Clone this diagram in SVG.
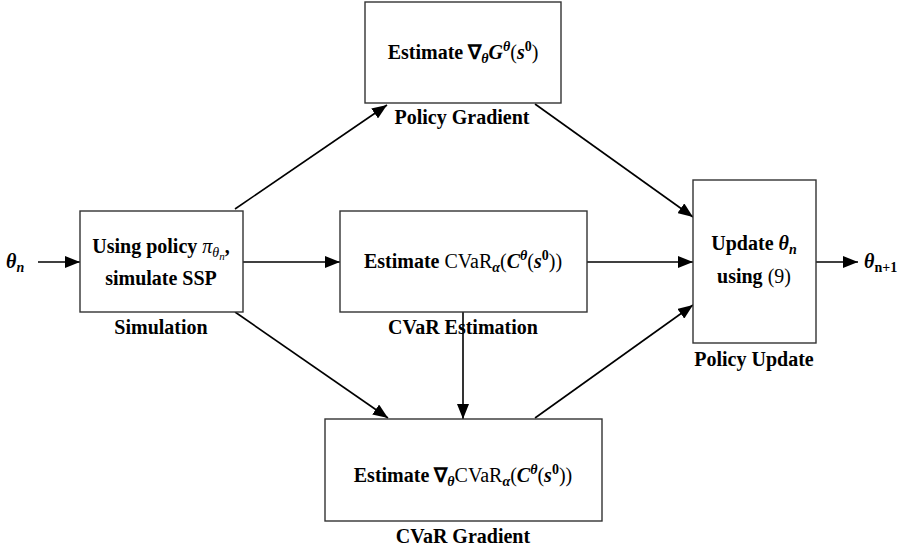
<svg xmlns="http://www.w3.org/2000/svg" width="916" height="552" viewBox="0 0 916 552">
  <defs>
    <marker id="arrow" markerUnits="userSpaceOnUse" markerWidth="16" markerHeight="12" refX="15" refY="6" orient="auto">
      <path d="M0,0 L15,6 L0,12 z" fill="#000"/>
    </marker>
  </defs>

  <!-- connectors: shared stroke and arrowhead set on the group -->
  <g id="connectors" stroke="#000" stroke-width="1.6" fill="none">
    <line x1="38" y1="262" x2="80" y2="262" marker-end="url(#arrow)"/>
    <line x1="235" y1="209" x2="387" y2="105" marker-end="url(#arrow)"/>
    <line x1="243" y1="262" x2="340" y2="262" marker-end="url(#arrow)"/>
    <line x1="235" y1="312" x2="388" y2="418" marker-end="url(#arrow)"/>
    <line x1="535" y1="104" x2="693" y2="217" marker-end="url(#arrow)"/>
    <line x1="587" y1="262" x2="693" y2="262" marker-end="url(#arrow)"/>
    <line x1="463" y1="312" x2="463" y2="419" marker-end="url(#arrow)"/>
    <line x1="535" y1="418" x2="693" y2="305" marker-end="url(#arrow)"/>
    <line x1="816" y1="262" x2="858" y2="262" marker-end="url(#arrow)"/>
  </g>

  <!-- input / output parameters -->
  <g id="theta-in">
    <text x="6" y="268" font-size="20" font-family="Liberation Serif" font-weight="bold" font-style="italic">θ<tspan font-size="14" dy="4">n</tspan></text>
  </g>
  <g id="theta-out">
    <text x="864" y="268" font-size="20" font-family="Liberation Serif" font-weight="bold"><tspan font-style="italic">θ</tspan><tspan font-size="14" dy="4">n+1</tspan></text>
  </g>

  <!-- Simulation -->
  <g id="simulation">
    <rect x="80" y="211" width="163" height="101" fill="#fff" stroke="#333" stroke-width="1.4"/>
    <text x="161" y="253" text-anchor="middle" font-size="20" font-family="Liberation Serif"><tspan font-weight="bold">Using policy </tspan><tspan font-style="italic">π</tspan><tspan font-style="italic" font-size="14" dy="4">θ</tspan><tspan font-style="italic" font-size="11" dy="3">n</tspan><tspan font-weight="bold" dy="-7">,</tspan></text>
    <text x="161" y="285" text-anchor="middle" font-size="20" font-family="Liberation Serif" font-weight="bold">simulate SSP</text>
    <text x="161" y="334" text-anchor="middle" font-size="20" font-family="Liberation Serif" font-weight="bold">Simulation</text>
  </g>

  <!-- Policy Gradient -->
  <g id="policy-gradient">
    <rect x="365" y="2" width="196" height="101" fill="#fff" stroke="#333" stroke-width="1.4"/>
    <text x="463" y="59" text-anchor="middle" font-size="20" font-family="Liberation Serif"><tspan font-weight="bold">Estimate ∇</tspan><tspan font-weight="bold" font-style="italic" font-size="14" dy="4">θ</tspan><tspan font-weight="bold" font-style="italic" dy="-4">G</tspan><tspan font-weight="bold" font-style="italic" font-size="14" dy="-8">θ</tspan><tspan dy="8">(</tspan><tspan font-weight="bold" font-style="italic">s</tspan><tspan font-weight="bold" font-size="14" dy="-8">0</tspan><tspan dy="8">)</tspan></text>
    <text x="462" y="124" text-anchor="middle" font-size="20" font-family="Liberation Serif" font-weight="bold">Policy Gradient</text>
  </g>

  <!-- CVaR Estimation -->
  <g id="cvar-estimation">
    <rect x="340" y="211" width="247" height="101" fill="#fff" stroke="#333" stroke-width="1.4"/>
    <text x="463" y="268" text-anchor="middle" font-size="20" font-family="Liberation Serif"><tspan font-weight="bold">Estimate </tspan><tspan>CVaR</tspan><tspan font-weight="bold" font-style="italic" font-size="14" dy="4">α</tspan><tspan dy="-4">(</tspan><tspan font-weight="bold" font-style="italic">C</tspan><tspan font-weight="bold" font-style="italic" font-size="14" dy="-8">θ</tspan><tspan dy="8">(</tspan><tspan font-weight="bold" font-style="italic">s</tspan><tspan font-weight="bold" font-size="14" dy="-8">0</tspan><tspan dy="8">))</tspan></text>
    <text x="463" y="334" text-anchor="middle" font-size="20" font-family="Liberation Serif" font-weight="bold">CVaR Estimation</text>
  </g>

  <!-- CVaR Gradient -->
  <g id="cvar-gradient">
    <rect x="325" y="419" width="277" height="102" fill="#fff" stroke="#333" stroke-width="1.4"/>
    <text x="463" y="482" text-anchor="middle" font-size="20" font-family="Liberation Serif"><tspan font-weight="bold">Estimate ∇</tspan><tspan font-weight="bold" font-style="italic" font-size="14" dy="4">θ</tspan><tspan dy="-4">CVaR</tspan><tspan font-weight="bold" font-style="italic" font-size="14" dy="4">α</tspan><tspan dy="-4">(</tspan><tspan font-weight="bold" font-style="italic">C</tspan><tspan font-weight="bold" font-style="italic" font-size="14" dy="-8">θ</tspan><tspan dy="8">(</tspan><tspan font-weight="bold" font-style="italic">s</tspan><tspan font-weight="bold" font-size="14" dy="-8">0</tspan><tspan dy="8">))</tspan></text>
    <text x="463" y="543" text-anchor="middle" font-size="20" font-family="Liberation Serif" font-weight="bold">CVaR Gradient</text>
  </g>

  <!-- Policy Update -->
  <g id="policy-update">
    <rect x="693" y="180" width="123" height="163" fill="#fff" stroke="#333" stroke-width="1.4"/>
    <text x="754" y="250" text-anchor="middle" font-size="20" font-family="Liberation Serif"><tspan font-weight="bold">Update </tspan><tspan font-weight="bold" font-style="italic">θ</tspan><tspan font-weight="bold" font-style="italic" font-size="14" dy="4">n</tspan></text>
    <text x="754" y="283" text-anchor="middle" font-size="20" font-family="Liberation Serif"><tspan font-weight="bold">using </tspan><tspan>(9)</tspan></text>
    <text x="754" y="366" text-anchor="middle" font-size="20" font-family="Liberation Serif" font-weight="bold">Policy Update</text>
  </g>
</svg>
